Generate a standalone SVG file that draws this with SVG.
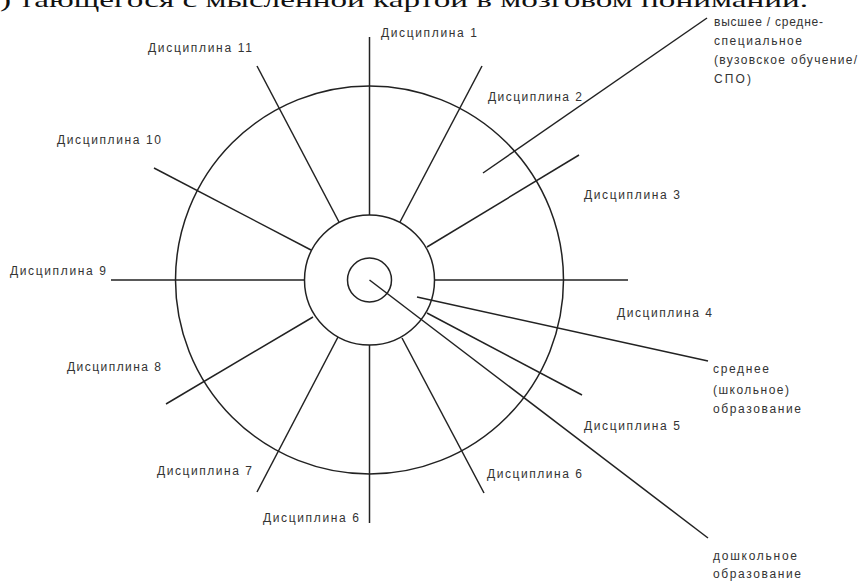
<svg xmlns="http://www.w3.org/2000/svg" width="859" height="581" viewBox="0 0 859 581">
<style>
.ln{stroke:#222;stroke-width:1.5;fill:none}
.lb{font-family:"Liberation Sans","DejaVu Sans",sans-serif;font-size:12px;fill:#333}
.top{font-family:"Liberation Serif","DejaVu Serif",serif;font-size:22px;fill:#111}
</style>
<rect width="859" height="581" fill="#fff"/>
<text class="top" x="0" y="7" textLength="808" lengthAdjust="spacingAndGlyphs">) тающегося с мысленной картой в мозговом понимании.</text>
<g id="rings">
<circle class="ln" cx="369.5" cy="280" r="194"/>
<circle class="ln" cx="369.5" cy="280" r="65"/>
<circle class="ln" cx="369.5" cy="280" r="22"/>
</g>
<g id="connectors">
<line class="ln" x1="369.5" y1="215" x2="369.5" y2="37"/>
<line class="ln" x1="400" y1="222" x2="482" y2="66"/>
<line class="ln" x1="427" y1="247" x2="579" y2="155"/>
<line class="ln" x1="434.5" y1="280" x2="628" y2="280"/>
<line class="ln" x1="427" y1="313" x2="582" y2="395"/>
<line class="ln" x1="402" y1="338" x2="484" y2="493"/>
<line class="ln" x1="369.5" y1="345" x2="369.5" y2="523"/>
<line class="ln" x1="338" y1="337" x2="257" y2="492"/>
<line class="ln" x1="313" y1="317" x2="166" y2="404"/>
<line class="ln" x1="304.5" y1="280" x2="111" y2="280"/>
<line class="ln" x1="311" y1="250" x2="154" y2="168"/>
<line class="ln" x1="339" y1="222" x2="257" y2="66"/>
<line class="ln" x1="483" y1="173" x2="707" y2="18"/>
<line class="ln" x1="417" y1="297" x2="708" y2="361"/>
<line class="ln" x1="369.5" y1="280" x2="708" y2="538"/>
</g>
<g id="d1"><text class="lb" x="381" y="37" textLength="96">Дисциплина 1</text></g>
<g id="d2"><text class="lb" x="488" y="101" textLength="94">Дисциплина 2</text></g>
<g id="d3"><text class="lb" x="584" y="199" textLength="96">Дисциплина 3</text></g>
<g id="d4"><text class="lb" x="617" y="317" textLength="95">Дисциплина 4</text></g>
<g id="d5"><text class="lb" x="584" y="430" textLength="96">Дисциплина 5</text></g>
<g id="d6r"><text class="lb" x="487" y="478" textLength="95">Дисциплина 6</text></g>
<g id="d6b"><text class="lb" x="263" y="522" textLength="96">Дисциплина 6</text></g>
<g id="d7"><text class="lb" x="157" y="475" textLength="95">Дисциплина 7</text></g>
<g id="d8"><text class="lb" x="67" y="371" textLength="94">Дисциплина 8</text></g>
<g id="d9"><text class="lb" x="10" y="275" textLength="96">Дисциплина 9</text></g>
<g id="d10"><text class="lb" x="57" y="144" textLength="104">Дисциплина 10</text></g>
<g id="d11"><text class="lb" x="148" y="52" textLength="104">Дисциплина 11</text></g>
<g id="higher">
<text class="lb" x="714" y="26" textLength="109">высшее / средне-</text>
<text class="lb" x="714" y="45" textLength="88">специальное</text>
<text class="lb" x="714" y="64" textLength="143">(вузовское обучение/</text>
<text class="lb" x="714" y="83" textLength="37">СПО)</text>
</g>
<g id="secondary">
<text class="lb" x="713" y="373" textLength="56">среднее</text>
<text class="lb" x="713" y="394" textLength="76">(школьное)</text>
<text class="lb" x="713" y="413" textLength="88">образование</text>
</g>
<g id="preschool">
<text class="lb" x="713" y="560" textLength="84">дошкольное</text>
<text class="lb" x="713" y="578" textLength="88">образование</text>
</g>
</svg>
